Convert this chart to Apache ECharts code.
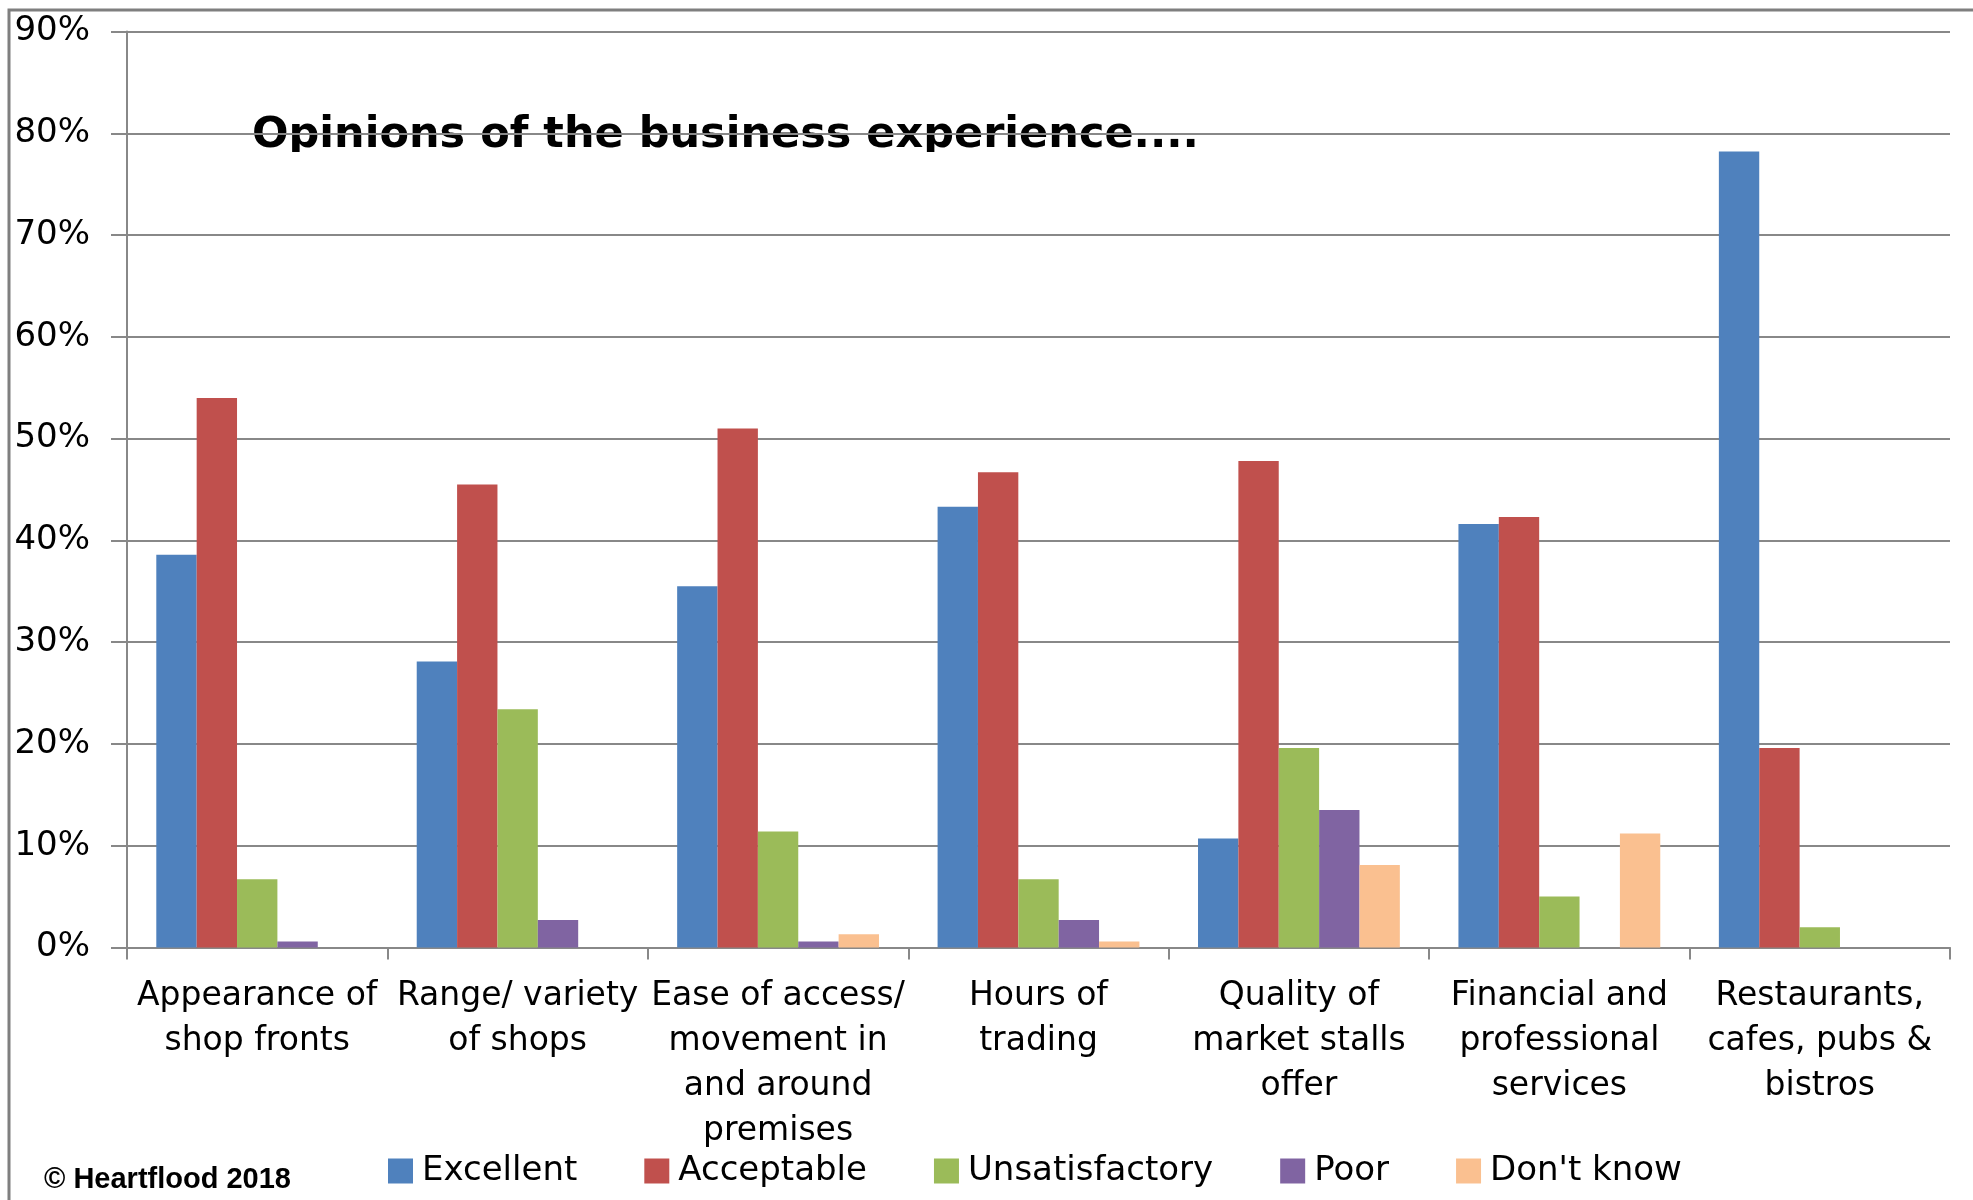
<!DOCTYPE html>
<html>
<head>
<meta charset="utf-8">
<script src="https://cdn.jsdelivr.net/npm/echarts@6/dist/echarts.min.js"></script>
<style>
  html, body { margin: 0; padding: 0; background: #ffffff; }
  #chart { width: 1973px; height: 1200px; }
</style>
</head>
<body>
<div id="chart"></div>
<script>
// Survey categories (line breaks as shown under the axis)
const categories = [
  'Appearance of\nshop fronts',
  'Range/ variety\nof shops',
  'Ease of access/\nmovement in\nand around\npremises',
  'Hours of\ntrading',
  'Quality of\nmarket stalls\noffer',
  'Financial and\nprofessional\nservices',
  'Restaurants,\ncafes, pubs &\nbistros'
];

// Share of responses per rating, in percent
const excellent      = [38.6, 28.1, 35.5, 43.3, 10.7, 41.6, 78.2];
const acceptable     = [54.0, 45.5, 51.0, 46.7, 47.8, 42.3, 19.6];
const unsatisfactory = [6.7, 23.4, 11.4, 6.7, 19.6, 5.0, 2.0];
const poor           = [0.6, 2.7, 0.6, 2.7, 13.5, 0, 0];
const dontKnow       = [0, 0, 1.3, 0.6, 8.1, 11.2, 0];

const seriesNames  = ['Excellent', 'Acceptable', 'Unsatisfactory', 'Poor', "Don't know"];
const seriesData   = [excellent, acceptable, unsatisfactory, poor, dontKnow];
const seriesColors = ['#4F81BD', '#C0504D', '#9BBB59', '#8064A2', '#FAC090'];

const yMin = 0, yMax = 90, yStep = 10;

const FONT = "'DejaVu Sans', Verdana, sans-serif";
const GRID_GREY = '#888888';

const chart = echarts.init(document.getElementById('chart'), null, { renderer: 'canvas' });

chart.setOption({
  backgroundColor: '#ffffff',
  animation: false,
  color: seriesColors,
  textStyle: { fontFamily: FONT, color: '#000000' },
  grid: { left: 127, right: 23, top: 31.5, bottom: 252.5, containLabel: false },
  legend: {
    data: seriesNames,
    left: 388,
    top: 1154,
    padding: 0,
    itemWidth: 25,
    itemHeight: 25,
    itemGap: 67,
    icon: 'rect',
    textStyle: { fontFamily: FONT, fontSize: 34, color: '#000000', padding: [0, 0, 0, 4] }
  },
  xAxis: {
    type: 'category',
    data: categories,
    boundaryGap: true,
    axisLine: { show: true, lineStyle: { color: GRID_GREY, width: 2 } },
    axisTick: { show: true, length: 12, alignWithLabel: false, lineStyle: { color: GRID_GREY, width: 2 } },
    axisLabel: {
      interval: 0,
      margin: 26,
      fontFamily: FONT,
      fontSize: 33,
      lineHeight: 45,
      color: '#000000',
      align: 'center'
    }
  },
  yAxis: {
    type: 'value',
    min: yMin,
    max: yMax,
    interval: yStep,
    axisLine: { show: true, lineStyle: { color: GRID_GREY, width: 2 } },
    axisTick: { show: true, length: 16, lineStyle: { color: GRID_GREY, width: 2 } },
    splitLine: { show: true, lineStyle: { color: GRID_GREY, width: 2 } },
    axisLabel: {
      formatter: '{value}%',
      margin: 37,
      fontFamily: FONT,
      fontSize: 34,
      color: '#000000'
    }
  },
  series: seriesNames.map((name, i) => ({
    name: name,
    type: 'bar',
    data: seriesData[i],
    barGap: '0%',
    barCategoryGap: '22.5%',
    itemStyle: { color: seriesColors[i] }
  })),
  graphic: [
    // frame around the chart area
    {
      type: 'rect',
      z: 100,
      shape: { x: 9, y: 10, width: 2100, height: 1400 },
      style: { fill: 'none', stroke: '#7f7f7f', lineWidth: 3 },
      silent: true
    },
    // chart heading sits behind the gridlines
    {
      type: 'text',
      z: -10,
      left: 252,
      top: 114,
      style: {
        text: 'Opinions of the business experience....',
        font: "bold 43px 'DejaVu Sans', Verdana, sans-serif",
        fill: '#000000'
      },
      silent: true
    },
    // heading text box clips the descenders
    {
      type: 'rect',
      z: -9,
      shape: { x: 240, y: 152, width: 1000, height: 24 },
      style: { fill: '#ffffff' },
      silent: true
    },
    {
      type: 'text',
      z: 100,
      left: 44,
      top: 1165,
      style: {
        text: '© Heartflood 2018',
        font: "bold 29px 'Liberation Sans', Arial, sans-serif",
        fill: '#000000'
      },
      silent: true
    }
  ]
});
</script>
</body>
</html>
